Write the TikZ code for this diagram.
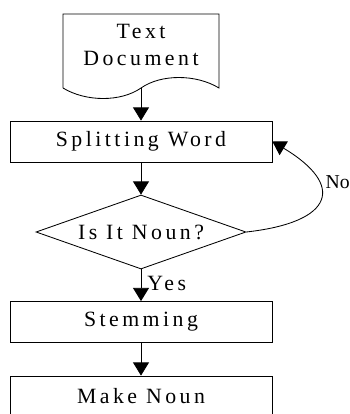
\documentclass[tikz,border=0pt]{standalone}
\usepackage{fontspec}
\setmainfont{Liberation Serif}[LetterSpace=16]
\usetikzlibrary{arrows.meta,shapes.geometric}

\begin{document}
\begin{tikzpicture}
        [proc/.style={draw, minimum width=6.55cm, minimum height=1.025cm, inner sep=0pt},
         decision/.style={draw, diamond, shape aspect=2.8, minimum width=5.25cm,
           minimum height=1.85cm, inner sep=0pt},
         lbl/.style={anchor=west, inner sep=0pt},
         flow/.style={->, >={Triangle[width=0.4cm,length=0.33cm]}},
         every node/.style={font=\fontsize{15.5}{19}\selectfont},
         line width=0.6pt]
        \useasboundingbox (0,0) rectangle (8.75,-10.35);
        % document shape
        \draw (1.575,-2.2) -- (1.575,-0.35) -- (5.475,-0.35) -- (5.475,-2.2)
          .. controls (4.9,-1.85) and (4.025,-1.85) .. (3.525,-2.2)
          .. controls (3.025,-2.55) and (2.15,-2.55) .. (1.575,-2.2);
        \node[align=center] (doc) at (3.525,-1.125) {Text\\Document};
        \coordinate (docb) at (3.525,-2.2);
        \node[proc] (split) at (3.525,-3.5375) {Splitting Word};
        \node[decision] (noun) at (3.525,-5.8) {Is It Noun?};
        \node[proc] (stem) at (3.525,-8.05) {Stemming};
        \node[proc] (make) at (3.525,-9.9125) {Make Noun};
        \draw[flow] (docb) -- (split.north);
        \draw[flow] (split.south) -- (noun.north);
        \draw[flow] (noun.south) -- (stem.north);
        \draw[flow] (stem.south) -- (make.north);
        \draw[flow] (noun.east) .. controls (8.375,-5.55) and (8.625,-4.625) .. (split.east);
        \node[lbl] (yes) at (3.675,-7.075) {Yes};
        \node[lbl, font=\fontsize{14}{17}\selectfont\addfontfeature{LetterSpace=0}]
          (no) at (8.13,-4.55) {No};
\end{tikzpicture}
\end{document}
